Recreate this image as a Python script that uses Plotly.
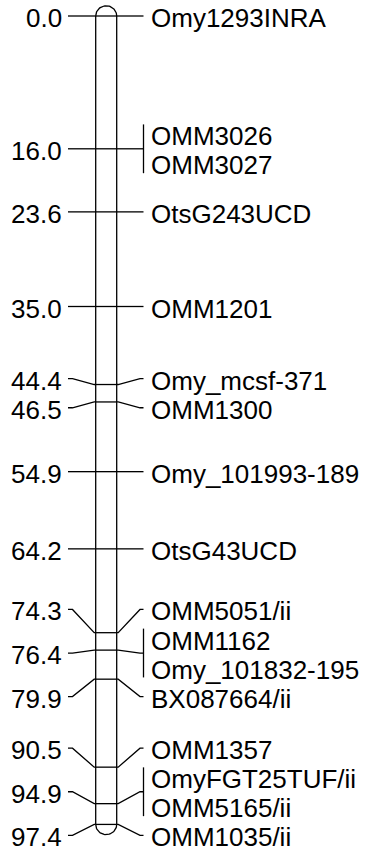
import numpy as np
import plotly.graph_objects as go

# ---- data ----
positions = [0.0, 16.0, 16.0, 23.6, 35.0, 44.4, 46.5, 54.9, 64.2,
             74.3, 76.4, 76.4, 79.9, 90.5, 94.9, 94.9, 97.4]
markers = ["Omy1293INRA", "OMM3026", "OMM3027", "OtsG243UCD", "OMM1201",
           "Omy_mcsf-371", "OMM1300", "Omy_101993-189", "OtsG43UCD",
           "OMM5051/ii", "OMM1162", "Omy_101832-195", "BX087664/ii",
           "OMM1357", "OmyFGT25TUF/ii", "OMM5165/ii", "OMM1035/ii"]

# ---- layout constants ----
W, H = 367, 854
PX_PER_CM = 8.30
TOP_PX = 16.0
Y_MIN = -TOP_PX / PX_PER_CM
Y_MAX = (H - TOP_PX) / PX_PER_CM
SLOT = 3.5                    # label spacing in cM
BOTTOM_PAD = 0.5              # extra room below last label (cM)
BAR_L, BAR_R = 95.7, 116.7
CAP = 10.2 / PX_PER_CM
LEFT_END, LEFT_KNEE = 68.0, 72.5
RIGHT_KNEE, RIGHT_END = 140.0, 143.5
LEFT_TEXT_X, RIGHT_TEXT_X = 61.5, 150.5
FONT = dict(family="Liberation Sans, Arial", size=26, color="black")
LW = 1.3


def spread(desired, slot, lo, hi):
    clusters = [[i] for i in range(len(desired))]
    starts = [desired[i] for i in range(len(desired))]

    def place(c):
        m = float(np.mean([desired[i] for i in c]))
        s = m - (len(c) - 1) * slot / 2
        e = s + (len(c) - 1) * slot
        if e > hi:
            s -= e - hi
        if s < lo:
            s = lo
        return s

    changed = True
    while changed:
        changed = False
        for k in range(len(clusters) - 1):
            a, b = clusters[k], clusters[k + 1]
            end_a = starts[k] + (len(a) - 1) * slot
            if starts[k + 1] - end_a < slot - 1e-9:
                nc = a + b
                clusters[k:k + 2] = [nc]
                starts[k:k + 2] = [place(nc)]
                changed = True
                break
    out = [0.0] * len(desired)
    for c, s in zip(clusters, starts):
        for j, i in enumerate(c):
            out[i] = s + j * slot
    return out


label_y = spread(positions, SLOT, Y_MIN + SLOT / 2, Y_MAX - SLOT / 2 - BOTTOM_PAD)

# group markers by locus
loci = []
for i, p in enumerate(positions):
    if loci and loci[-1][0] == p:
        loci[-1][1].append(i)
    else:
        loci.append((p, [i]))

xs, ys = [], []


def seg(px, py):
    xs.extend(list(px) + [None])
    ys.extend(list(py) + [None])


# chromosome body
p0, p1 = positions[0], positions[-1]
seg([BAR_L, BAR_L], [p0, p1])
seg([BAR_R, BAR_R], [p0, p1])
t = np.linspace(np.pi, 0, 40)
cx, rx = (BAR_L + BAR_R) / 2, (BAR_R - BAR_L) / 2
seg(cx + rx * np.cos(t), p0 - CAP * np.sin(t))
seg(cx + rx * np.cos(t), p1 + CAP * np.sin(t))

annotations = []
common = dict(yanchor="middle", showarrow=False, font=FONT, yshift=-2,
              borderwidth=0, borderpad=0)
for p, idx in loci:
    ry = [label_y[i] for i in idx]
    cy = float(np.mean(ry))
    seg([BAR_L, BAR_R], [p, p])
    seg([BAR_L, BAR_L - 1.5, LEFT_KNEE, LEFT_END], [p, p, cy, cy])
    seg([BAR_R, BAR_R + 1.5, RIGHT_KNEE, RIGHT_END], [p, p, cy, cy])
    if len(idx) > 1:
        ext = SLOT * 0.34
        seg([RIGHT_END, RIGHT_END], [min(ry) - ext, max(ry) + ext])
    annotations.append(dict(x=LEFT_TEXT_X, y=cy, text=f"{p:.1f}", xanchor="right", **common))
    for i in idx:
        annotations.append(dict(x=RIGHT_TEXT_X, y=label_y[i], text=markers[i],
                                xanchor="left", **common))

fig = go.Figure(go.Scatter(x=xs, y=ys, mode="lines",
                           line=dict(color="black", width=LW),
                           hoverinfo="skip", showlegend=False))
fig.update_layout(
    width=W, height=H, margin=dict(l=0, r=0, t=0, b=0),
    paper_bgcolor="white", plot_bgcolor="white",
    xaxis=dict(range=[0, W], visible=False, fixedrange=True),
    yaxis=dict(range=[Y_MAX, Y_MIN], visible=False, fixedrange=True),
    annotations=annotations, showlegend=False,
)
fig.write_html("out.html", config={"displayModeBar": False, "staticPlot": True},
               post_script="document.body.style.margin='0';document.body.style.overflow='hidden';")
